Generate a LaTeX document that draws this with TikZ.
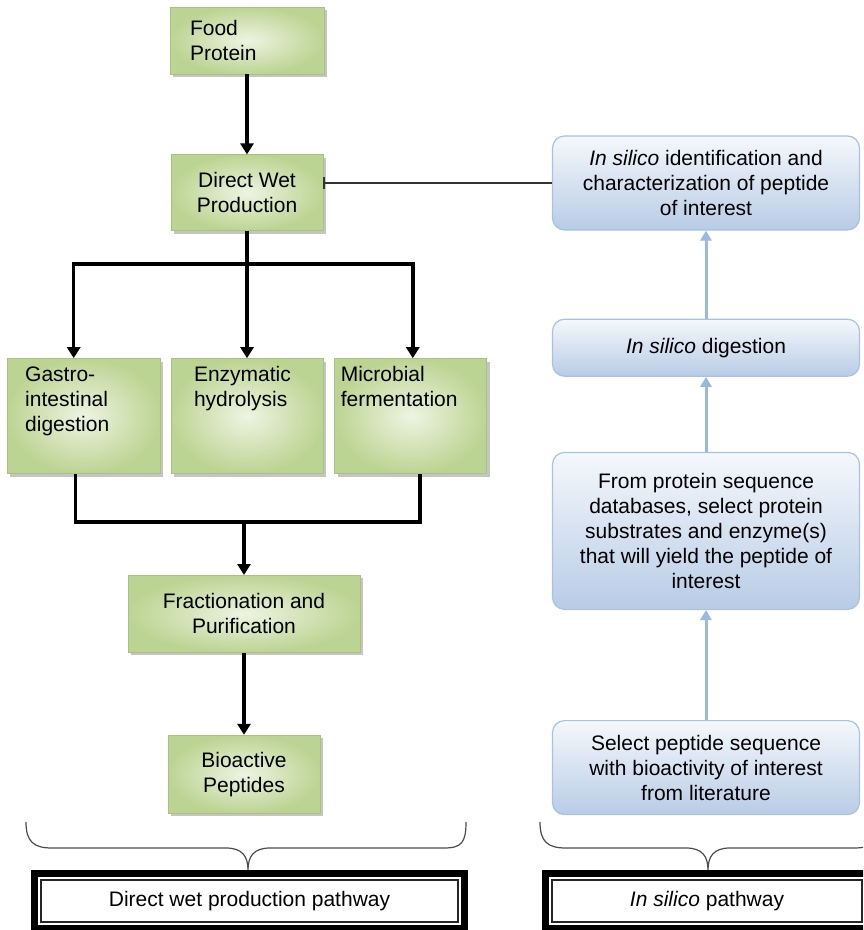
\documentclass[tikz,border=0pt]{standalone}
\usepackage{fontspec}
\setmainfont{Liberation Sans}
\usetikzlibrary{arrows.meta,positioning,shadows,calc}
\definecolor{gdk}{HTML}{BCD493}
\definecolor{glt}{HTML}{EEF4E2}
\definecolor{gln}{HTML}{A9C27C}
\definecolor{bdk}{HTML}{B8CCE6}
\definecolor{blt}{HTML}{F5F8FC}
\definecolor{bln}{HTML}{A9C2E0}
\definecolor{bup}{HTML}{9BB9DF}
\newcommand{\bigfont}{\fontsize{21pt}{25pt}\selectfont}
\newcommand{\topfill}[2]{\parbox[t][99pt][t]{#1}{#2}}
\tikzset{
  gbox/.style={draw=gln,line width=0.8pt,inner color=glt,outer color=gdk,drop shadow={shadow xshift=3pt,shadow yshift=-3pt,fill=black!45},font=\bigfont,minimum width=152pt},
  bbox/.style={draw=bln,line width=1.2pt,rounded corners=12pt,top color=blt,bottom color=bdk,align=center,font=\bigfont,minimum width=307pt},
  pbox/.style={draw,line width=7pt,fill=white,minimum width=430pt,minimum height=55pt,font=\bigfont},
  ar/.style={-{Triangle[width=13pt,length=11pt]},line width=3.5pt},
  upar/.style={-{Triangle[width=11pt,length=10pt]},line width=3pt,draw=bup},
  lnk/.style={{Bar[width=12pt]}-,line width=1.5pt,draw=black!80},
  brc/.style={line width=1.2pt,draw=black!70},
  rule/.style={draw=black!85,line width=1.2pt},
}
\begin{document}
\begin{tikzpicture}[x=1pt,y=-1pt]
\clip (0,0) rectangle (863,930);
% wet pathway
\node[gbox,minimum height=67pt,align=left,text width=114pt,inner xsep=20pt] (fp) at (247,40.5) {Food\\Protein};
\node[gbox,below=80pt of fp,minimum height=76pt,align=center] (dw) {Direct Wet\\Production};
\node[gbox,below=127pt of dw,minimum height=115pt,inner xsep=23pt,inner ysep=8pt] (eh) {\topfill{106pt}{Enzymatic\\hydrolysis}};
\node[gbox,left=10pt of eh,minimum height=115pt,inner xsep=18pt,inner ysep=8pt] (gi) {\topfill{117pt}{Gastro-\\intestinal\\digestion}};
\node[gbox,right=11pt of eh,minimum height=115pt,inner xsep=6pt,inner ysep=8pt] (mf) {\topfill{140pt}{Microbial\\fermentation}};
\node[gbox,below=101pt of eh,xshift=-3pt,minimum width=232pt,minimum height=77pt,align=center] (fr) {Fractionation and\\Purification};
\node[gbox,below=82pt of fr,minimum height=78pt,align=center] (bp) {Bioactive\\Peptides};
\coordinate[below=33pt of dw] (split);
\coordinate[above=53pt of fr] (merge);
\draw[ar] (fp) -- (dw);
\draw[line width=3.5pt] (dw) -- (split);
\draw[ar] (split) -| ([xshift=-10pt]gi.north);
\draw[ar] (split) -- (eh);
\draw[ar] (split) -| ([xshift=2pt]mf.north);
\draw[line width=3.5pt] ([xshift=-8pt]gi.south) |- (merge) -| ([xshift=9pt]mf.south);
\draw[ar] (merge) -- (fr);
\draw[ar] (fr) -- (bp);
% in silico pathway
\node[bbox,minimum height=94pt] (id) at (706,183) {\textit{In silico} identification and\\characterization of peptide\\of interest};
\node[bbox,below=88pt of id,minimum height=57pt] (dg) {\textit{In silico} digestion};
\node[bbox,below=75pt of dg,minimum height=157pt] (sp) {From protein sequence\\databases, select protein\\substrates and enzyme(s)\\that will yield the peptide of\\interest};
\node[bbox,below=110pt of sp,minimum height=94pt] (sl) {Select peptide sequence\\with bioactivity of interest\\from literature};
\draw[upar] (sl) -- (sp);
\draw[upar] (sp) -- (dg);
\draw[upar] (dg) -- (id);
\draw[lnk] (id.west -| dw.east) -- (id.west);
% braces and pathway labels
\draw[brc] (26,822) .. controls (26,842) and (34,848) .. (52,848) -- (226,848) .. controls (242,848) and (248,856) .. (248,870) .. controls (248,856) and (254,848) .. (270,848) -- (444,848) .. controls (462,848) and (466,842) .. (466,822);
\draw[brc] (540,822) .. controls (540,842) and (548,848) .. (566,848) -- (686,848) .. controls (702,848) and (708,856) .. (708,870) .. controls (708,856) and (714,848) .. (730,848) -- (854,848) .. controls (872,848) and (876,842) .. (876,822);
\node[pbox] (pw) at (249.5,901) {Direct wet production pathway};
\node[pbox,minimum width=323pt] (ps) at (707,901) {\textit{In silico} pathway};
\draw[rule] ($(pw.north west)+(10,10)$) rectangle ($(pw.south east)+(-10,-10)$);
\draw[rule] ($(ps.north west)+(10,10)$) rectangle ($(ps.south east)+(-10,-10)$);
\end{tikzpicture}
\end{document}
